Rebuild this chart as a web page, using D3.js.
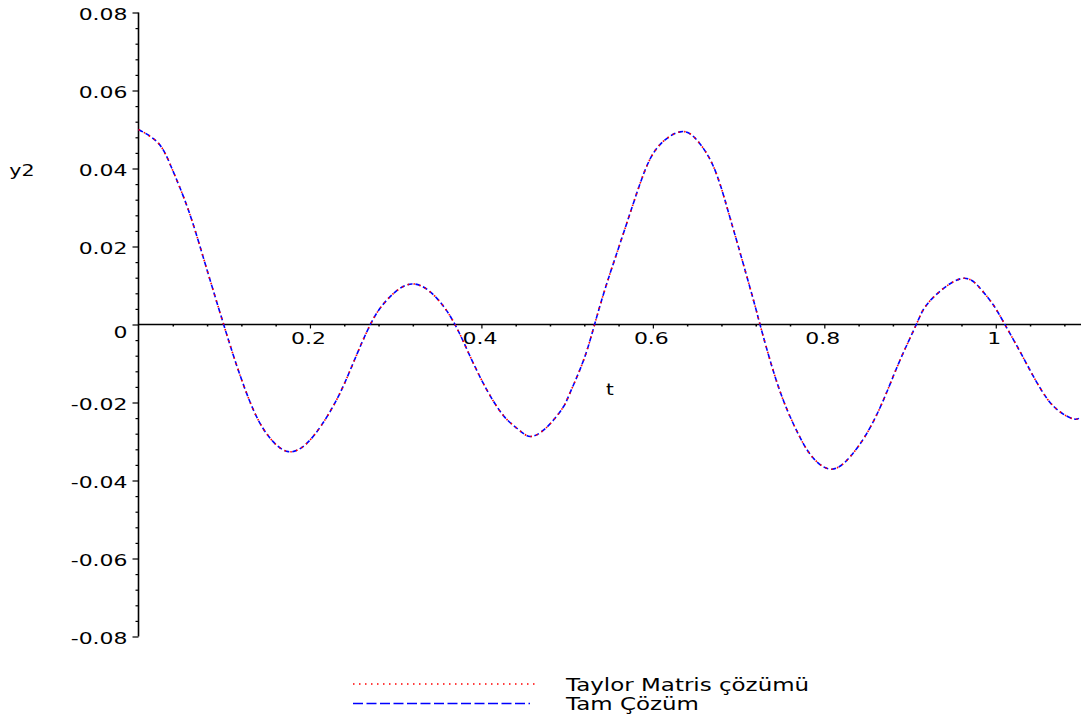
<!DOCTYPE html>
<html>
<head>
<meta charset="utf-8">
<script src="https://cdn.jsdelivr.net/npm/d3@7"></script>
<style>
  html, body { margin: 0; padding: 0; background: #fff; }
  svg { display: block; }
  text { font-family: "DejaVu Sans", sans-serif; fill: #000; }
</style>
</head>
<body>
<svg id="chart" width="1081" height="717"></svg>
<script>
// ---- data ----
const tValues = [0, 0.0231, 0.0386, 0.0581, 0.0776, 0.0989, 0.1164, 0.1359, 0.1552, 0.1747,
  0.1942, 0.2135, 0.2330, 0.2508, 0.2702, 0.2898, 0.3189, 0.3481, 0.3694, 0.3869,
  0.4064, 0.4258, 0.4414, 0.4569, 0.4724, 0.4841, 0.4957, 0.5036, 0.5191, 0.5320,
  0.5464, 0.5657, 0.5852, 0.6047, 0.6318, 0.6513, 0.6707, 0.6863, 0.6998, 0.7173,
  0.7251, 0.7406, 0.7563, 0.7718, 0.7873, 0.8088, 0.8301, 0.8496, 0.8689, 0.8884,
  0.9079, 0.9234, 0.9584, 0.9817, 0.9972, 1.0109, 1.0284, 1.0439, 1.0595, 1.0750,
  1.0905, 1.0983];

const exactY = [0.0500, 0.0465, 0.0402, 0.0294, 0.0157, 0.0003, -0.0117, -0.0228, -0.0296, -0.0326,
  -0.0309, -0.0258, -0.0185, -0.0097, -0.0001, 0.0063, 0.0104, 0.0067, -0.0001, -0.0082,
  -0.0168, -0.0234, -0.0266, -0.0287, -0.0271, -0.0245, -0.0211, -0.0174, -0.0092, 0.0000,
  0.0106, 0.0234, 0.0362, 0.0452, 0.0494, 0.0473, 0.0405, 0.0302, 0.0199, 0.0063,
  -0.0001, -0.0120, -0.0217, -0.0290, -0.0343, -0.0371, -0.0339, -0.0279, -0.0194, -0.0091,
  0.0003, 0.0061, 0.0117, 0.0093, 0.0050, -0.0001, -0.0070, -0.0133, -0.0189, -0.0224,
  -0.0242, -0.0239];

const taylorY = [0.0500, 0.0465, 0.0402, 0.0294, 0.0157, 0.0003, -0.0117, -0.0228, -0.0296, -0.0326,
  -0.0309, -0.0258, -0.0185, -0.0097, -0.0001, 0.0063, 0.0104, 0.0067, -0.0001, -0.0082,
  -0.0168, -0.0234, -0.0266, -0.0287, -0.0271, -0.0245, -0.0211, -0.0174, -0.0092, 0.0000,
  0.0106, 0.0234, 0.0362, 0.0452, 0.0494, 0.0473, 0.0405, 0.0302, 0.0199, 0.0063,
  -0.0001, -0.0120, -0.0217, -0.0290, -0.0343, -0.0371, -0.0339, -0.0279, -0.0194, -0.0091,
  0.0003, 0.0061, 0.0117, 0.0093, 0.0050, -0.0001, -0.0070, -0.0133, -0.0189, -0.0224,
  -0.0242, -0.0239];

const xTickValues = [0.2, 0.4, 0.6, 0.8, 1];
const xTickLabels = ["0.2", "0.4", "0.6", "0.8", "1"];
const yTickValues = [-0.08, -0.06, -0.04, -0.02, 0, 0.02, 0.04, 0.06, 0.08];
const yTickLabels = ["-0.08", "-0.06", "-0.04", "-0.02", "0", "0.02", "0.04", "0.06", "0.08"];
const seriesNames = ["Taylor Matris çözümü", "Tam Çözüm"];
const seriesColors = ["#ff0000", "#0000ff"];
const xLabel = "t";
const yLabel = "y2";

// ---- drawing ----
const svg = d3.select("#chart");
const STRETCH = 1.33;

const x = d3.scaleLinear().domain([0, 1.1]).range([138.5, 1081.5]);
const y = d3.scaleLinear().domain([-0.08, 0.08]).range([636.5, 12.5]);

function stretchText(sel, k) {
  sel.each(function () {
    const w = this.getComputedTextLength();
    d3.select(this).attr("textLength", w * k).attr("lengthAdjust", "spacingAndGlyphs");
  });
}

// minor x ticks (every 0.04)
const xMinor = d3.range(0.04, 1.1, 0.04).filter(v => Math.abs(v / 0.2 - Math.round(v / 0.2)) > 1e-6);
const xMinorAxis = d3.axisBottom(x).tickValues(xMinor).tickSize(2).tickFormat("");
svg.append("g").attr("transform", `translate(0,${y(0)})`).call(xMinorAxis)
  .call(g => g.select(".domain").remove())
  .call(g => g.selectAll("line").attr("stroke", "#000").attr("stroke-width", 1.5));

// major x axis
const xAxis = d3.axisBottom(x).tickValues(xTickValues)
  .tickFormat((d, i) => xTickLabels[i]).tickSize(4).tickPadding(4);
const gx = svg.append("g").attr("transform", `translate(0,${y(0)})`).call(xAxis);
gx.select(".domain").attr("d", `M${x(0)},0H${x(1.1)}`).attr("stroke", "#000").attr("stroke-width", 1.4);
gx.selectAll(".tick line").attr("stroke", "#000").attr("stroke-width", 1.2);
gx.selectAll(".tick text").attr("font-size", "16.5px").attr("fill", "#000").attr("dx", -2);
stretchText(gx.selectAll(".tick text"), STRETCH);

// minor y ticks (every 0.004)
const yMinor = d3.range(-0.08, 0.0801, 0.004).filter(v => Math.abs(v / 0.02 - Math.round(v / 0.02)) > 1e-6);
svg.append("g").attr("transform", `translate(${x(0)},0)`)
  .call(d3.axisLeft(y).tickValues(yMinor).tickSize(3).tickFormat(""))
  .call(g => g.select(".domain").remove())
  .call(g => g.selectAll("line").attr("stroke", "#000").attr("stroke-width", 1.2));

// major y axis
const yAxis = d3.axisLeft(y).tickValues(yTickValues)
  .tickFormat((d, i) => yTickLabels[i]).tickSize(6).tickPadding(5);
const gy = svg.append("g").attr("transform", `translate(${x(0)},0)`).call(yAxis);
gy.select(".domain").attr("d", `M0,${y(-0.08)}V${y(0.08)}`).attr("stroke", "#000").attr("stroke-width", 1.6);
gy.selectAll(".tick line").attr("stroke", "#000").attr("stroke-width", 1.2);
gy.selectAll(".tick text").attr("font-size", "16.5px").attr("fill", "#000")
  .attr("dy", d => d === 0 ? "0.78em" : "0.45em");
stretchText(gy.selectAll(".tick text"), STRETCH);

// axis titles
const tl = svg.append("text").attr("x", x(0.55)).attr("y", 395).attr("text-anchor", "middle")
  .attr("font-size", "16.5px").text(xLabel);
const yl = svg.append("text").attr("x", 22).attr("y", 176).attr("text-anchor", "middle")
  .attr("font-size", "16.5px").text(yLabel);
stretchText(tl, 1.2);
stretchText(yl, 1.25);

// curves
const pts = (ys) => tValues.map((t, i) => [t, ys[i]]);
const line = d3.line().x(d => x(d[0])).y(d => y(d[1])).curve(d3.curveNatural);

svg.append("path").datum(pts(exactY)).attr("d", line)
  .attr("fill", "none").attr("stroke", seriesColors[1]).attr("stroke-width", 1.6)
  .attr("stroke-dasharray", "5,3");
svg.append("path").datum(pts(taylorY)).attr("d", line)
  .attr("fill", "none").attr("stroke", seriesColors[0]).attr("stroke-width", 1.6)
  .attr("stroke-dasharray", "1.5,4.5");

// legend
const legend = svg.append("g");
const legendRows = [
  { name: seriesNames[0], color: seriesColors[0], dash: "1.5,4.5", y: 684, x2: 535, ty: 690.5 },
  { name: seriesNames[1], color: seriesColors[1], dash: "10,3.5", y: 703.5, x2: 530, ty: 709.5 }
];
legendRows.forEach(r => {
  legend.append("line").attr("x1", 353).attr("x2", r.x2).attr("y1", r.y).attr("y2", r.y)
    .attr("stroke", r.color).attr("stroke-width", 1.3).attr("stroke-dasharray", r.dash);
  const t = legend.append("text").attr("x", 566).attr("y", r.ty).attr("font-size", "17px").text(r.name);
  stretchText(t, 1.35);
});
</script>
</body>
</html>
